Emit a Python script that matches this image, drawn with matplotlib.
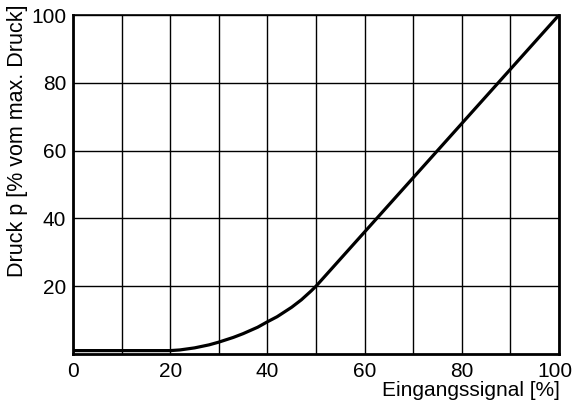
import matplotlib
matplotlib.use("Agg")
import matplotlib.pyplot as plt
import matplotlib.transforms as mtransforms

plt.rcParams['font.family'] = ['Liberation Sans', 'DejaVu Sans']

signal = [0, 10, 20, 22, 25, 28, 30, 33, 35, 38, 40, 42, 45, 47, 48, 49, 50, 60, 70, 80, 90, 100]
druck = [1, 1, 1, 1.2, 1.8, 2.7, 3.5, 4.9, 6.0, 7.9, 9.5, 11.0, 13.8, 16.0, 17.3, 18.6, 20, 36, 52, 68, 84, 100]

xticks = [0, 20, 40, 60, 80, 100]
yticks = [20, 40, 60, 80, 100]
xgrid = [0, 10, 20, 30, 40, 50, 60, 70, 80, 90, 100]
ygrid = [20, 40, 60, 80, 100]

fig = plt.figure(figsize=(5.74, 4.11), dpi=100)
ax = fig.add_axes([73/574, 1-354/411, (559-73)/574, (354-15)/411])

for gx in xgrid:
    ax.axvline(gx, color='black', lw=1.0, zorder=1)
for gy in ygrid:
    ax.axhline(gy, color='black', lw=1.0, zorder=1)

ax.plot(signal, druck, color='black', lw=2.3, zorder=3, solid_capstyle='round')

ax.set_xlim(0, 100)
ax.set_ylim(0, 100)
ax.set_xticks(xticks)
ax.set_yticks(yticks)
ax.tick_params(axis='both', length=0, labelsize=15)
ax.tick_params(axis='x', pad=6.0)
ax.tick_params(axis='y', pad=5.0)

# nudge the last x tick label slightly left so it stays inside the figure
last = ax.get_xticklabels()[-1]
last.set_transform(last.get_transform() + mtransforms.ScaledTranslation(-3/72, 0, fig.dpi_scale_trans))

for s in ['left', 'bottom', 'right']:
    ax.spines[s].set_linewidth(2.0)
ax.spines['top'].set_linewidth(1.2)

fig.text(18/574, 1-141/411, 'Druck p [% vom max. Druck]', rotation=90,
         ha='center', va='center', fontsize=15.5)
fig.text(560/574, 1-390/411, 'Eingangssignal [%]', ha='right', va='center', fontsize=15)

fig.savefig('out.png', dpi=100)
